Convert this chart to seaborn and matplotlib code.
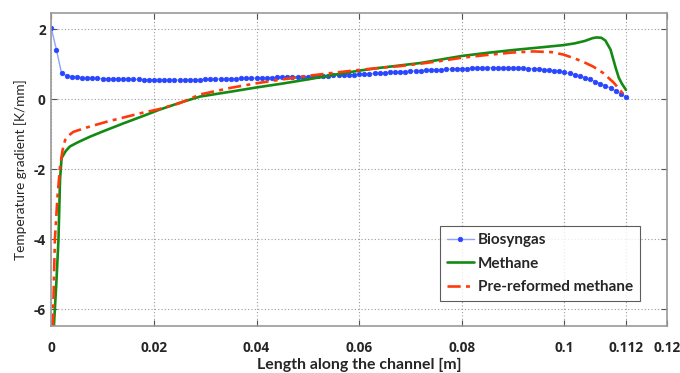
import numpy as np
import pandas as pd
import matplotlib
matplotlib.use("Agg")
import matplotlib.pyplot as plt
import seaborn as sns

# ---------------- data ----------------
bio_x = np.round(np.arange(0, 113) * 0.001, 3)
bio_y = [2.03, 1.42, 0.74, 0.68, 0.65, 0.63, 0.62, 0.61, 0.60, 0.60,
         0.59, 0.59, 0.58, 0.58, 0.58, 0.57, 0.57, 0.57, 0.56, 0.56,
         0.56, 0.56, 0.55, 0.55, 0.55, 0.55, 0.55, 0.56, 0.56, 0.56,
         0.57, 0.57, 0.58, 0.58, 0.58, 0.59, 0.59, 0.60, 0.60, 0.60,
         0.61, 0.61, 0.62, 0.62, 0.63, 0.63, 0.64, 0.64, 0.65, 0.65,
         0.65, 0.66, 0.67, 0.67, 0.68, 0.69, 0.69, 0.70, 0.70, 0.71,
         0.72, 0.72, 0.73, 0.74, 0.75, 0.76, 0.77, 0.77, 0.78, 0.79,
         0.80, 0.81, 0.82, 0.83, 0.83, 0.84, 0.85, 0.86, 0.86, 0.87,
         0.88, 0.88, 0.89, 0.89, 0.90, 0.90, 0.90, 0.90, 0.90, 0.90,
         0.90, 0.89, 0.89, 0.88, 0.87, 0.86, 0.85, 0.83, 0.82, 0.80,
         0.77, 0.74, 0.71, 0.67, 0.62, 0.57, 0.51, 0.45, 0.39, 0.32,
         0.24, 0.16, 0.06]

meth_x = [0.0005, 0.0010, 0.0014, 0.0017, 0.0020, 0.0028, 0.0036, 0.0050,
          0.0075, 0.010, 0.014, 0.018, 0.021, 0.025, 0.029, 0.035, 0.040,
          0.045, 0.050, 0.055, 0.060, 0.064, 0.068, 0.072, 0.076, 0.080,
          0.085, 0.090, 0.095, 0.0998, 0.102, 0.104, 0.1055, 0.1063, 0.1072,
          0.108, 0.109, 0.110, 0.1106, 0.1112, 0.112]
meth_y = [-6.5, -5.2, -4.0, -2.3, -1.68, -1.48, -1.35, -1.24,
          -1.07, -0.92, -0.69, -0.47, -0.30, -0.10, 0.08, 0.22, 0.34,
          0.45, 0.57, 0.70, 0.82, 0.90, 0.97, 1.04, 1.14, 1.24,
          1.33, 1.41, 1.48, 1.55, 1.60, 1.67, 1.75, 1.77, 1.76,
          1.68, 1.42, 0.90, 0.62, 0.45, 0.27]

pre_x = [0.0003, 0.0007, 0.0012, 0.0017, 0.0022, 0.0027, 0.0035, 0.0043,
         0.007, 0.0108, 0.0173, 0.021, 0.025, 0.029, 0.035, 0.040, 0.045,
         0.050, 0.055, 0.060, 0.064, 0.068, 0.072, 0.076, 0.080, 0.085,
         0.090, 0.094, 0.0975, 0.0998, 0.102, 0.104, 0.1057, 0.1075, 0.1096,
         0.1108, 0.112]
pre_y = [-6.5, -4.0, -2.8, -1.93, -1.45, -1.16, -1.02, -0.93,
         -0.80, -0.64, -0.40, -0.28, -0.11, 0.14, 0.33, 0.46, 0.57,
         0.67, 0.76, 0.84, 0.90, 0.95, 1.02, 1.10, 1.19, 1.27,
         1.34, 1.37, 1.35, 1.28, 1.17, 1.05, 0.93, 0.76, 0.48,
         0.27, 0.07]

x_ticks = [0, 0.02, 0.04, 0.06, 0.08, 0.1, 0.112, 0.12]
x_tick_labels = ["0", "0.02", "0.04", "0.06", "0.08", "0.1", "0.112", "0.12"]
y_ticks = [-6, -4, -2, 0, 2]
y_tick_labels = ["-6", "-4", "-2", "0", "2"]
series_names = ["Biosyngas", "Methane", "Pre-reformed methane"]

# ---------------- plot ----------------
sns.set_style("white")
plt.rcParams["font.family"] = ["Lato", "DejaVu Sans"]

fig = plt.figure(figsize=(6.8, 3.73), dpi=100)
ax = fig.add_axes([51.3 / 680, (373 - 326) / 373, (667 - 51.3) / 680, (326 - 13.3) / 373])

df_bio = pd.DataFrame({"x": bio_x, "y": bio_y})
df_meth = pd.DataFrame({"x": meth_x, "y": meth_y})
df_pre = pd.DataFrame({"x": pre_x, "y": pre_y})

sns.lineplot(data=df_bio, x="x", y="y", ax=ax, color="#8fa0ff", lw=1.0,
             marker="o", markersize=3.3, markerfacecolor="#2846ff",
             markeredgecolor="#2846ff", markeredgewidth=0.5,
             label=series_names[0], sort=False, estimator=None)
sns.lineplot(data=df_meth, x="x", y="y", ax=ax, color="#138a13", lw=1.9,
             label=series_names[1], sort=False, estimator=None)
sns.lineplot(data=df_pre, x="x", y="y", ax=ax, color="#ff3a0a", lw=1.9,
             linestyle=(0, (5, 2, 1.5, 2)),
             label=series_names[2], sort=False, estimator=None)

tick_font = {"family": ["Open Sans", "DejaVu Sans"], "weight": "bold", "size": 9.8}
ax.set_xlim(0, 0.12)
ax.set_ylim(-6.48, 2.46)
ax.set_xticks(x_ticks)
ax.set_xticklabels(x_tick_labels, fontdict=tick_font)
ax.set_yticks(y_ticks)
ax.set_yticklabels(y_tick_labels, fontdict=tick_font)
ax.tick_params(axis="x", direction="in", length=4, width=0.8, color="#555555",
               pad=11, top=True, bottom=True)
ax.tick_params(axis="y", direction="in", length=4, width=0.8, color="#555555",
               pad=4, left=True, right=True)

ax.grid(True, linestyle=(0, (1, 2)), color="#9a9a9a", lw=0.8)
for s in ax.spines.values():
    s.set_visible(True)
    s.set_color("#999999")
    s.set_linewidth(1.2)

ax.set_xlabel("Length along the channel [m]", fontsize=11.4, fontweight="bold",
              labelpad=2)
ax.set_ylabel("Temperature gradient [K/mm]", fontsize=9.8, labelpad=5)

leg = ax.legend(loc="lower right", bbox_to_anchor=(0.956, 0.08), borderaxespad=0,
                frameon=True, fancybox=False, edgecolor="#333333",
                prop={"weight": "bold", "size": 11.0}, handlelength=1.8,
                handletextpad=0.25, borderpad=0.45, labelspacing=0.62)
leg.get_frame().set_linewidth(0.8)

fig.savefig("out.png", dpi=100)
